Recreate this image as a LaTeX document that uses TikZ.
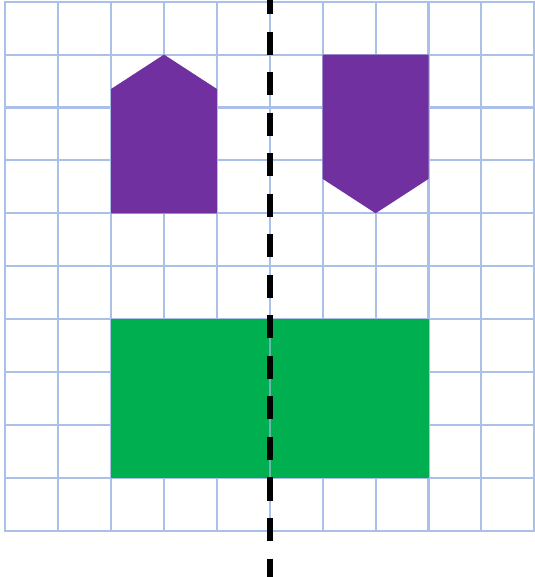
\documentclass[tikz,border=0pt]{standalone}
\definecolor{luoi}{RGB}{170,192,232}
\definecolor{tim}{RGB}{112,48,160}
\definecolor{xanhla}{RGB}{0,176,80}
\begin{document}
\begin{tikzpicture}[line join=miter, line cap=rect]
	%Gán số liệu.
	\def\n{10};\def\h{0.65};
	%Khung hình.
	\useasboundingbox (-0.1,-0.875) rectangle (10.01,10.032);
	%Gán tọa độ.
	\coordinate (T) at (5,10.032);
	\coordinate (D) at (5,-0.875);
	%Lưới ô vuông.
	\foreach \i in {0,...,\n}{
			\draw[luoi, line width=1.1pt] (\i,0)--(\i,\n);
			\draw[luoi, line width=1.1pt] (0,\i)--(\n,\i);
		}
	%Hình ngũ giác.
	\fill[tim] (2,6)--(2,9-\h)--(3,9)--(4,9-\h)--(4,6)--cycle;
	\fill[tim] (6,9)--(8,9)--(8,6+\h)--(7,6)--(6,6+\h)--cycle;
	%Hình chữ nhật.
	\fill[xanhla] (2,1) rectangle (8,4);
	\draw[luoi, line width=1.1pt, opacity=0.6] (5,1)--(5,4);
	%Trục đối xứng.
	\draw[line width=3.2pt, line cap=butt, dash pattern=on 12.4pt off 9.4pt, dash phase=4.8pt] (T)--(D);
\end{tikzpicture}
\end{document}
